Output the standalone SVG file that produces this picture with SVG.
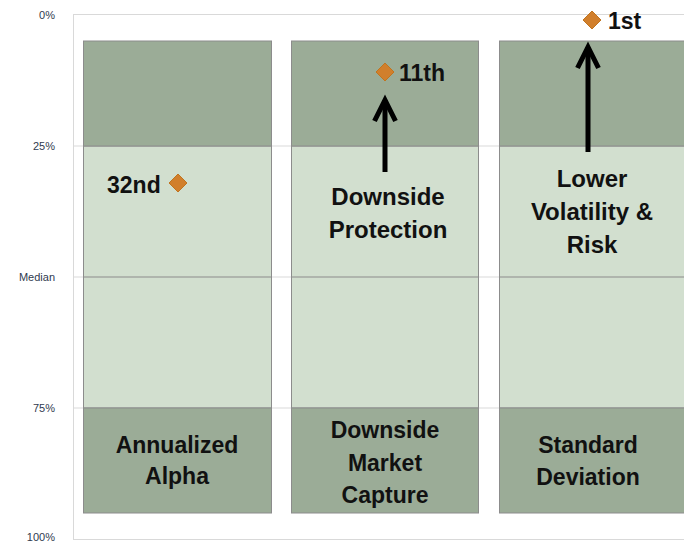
<svg xmlns="http://www.w3.org/2000/svg" width="684" height="542" viewBox="0 0 684 542">
<style>
.bg{fill:#ffffff}
.grid{stroke:#d9d9d9;stroke-width:1;fill:none}
.dark{fill:#9bac97;stroke:#8c8c8c;stroke-width:1}
.light{fill:#d2dfcf;stroke:#8c8c8c;stroke-width:1}
.mid{stroke:#8c8c8c;stroke-width:1.2;fill:none}
.ax{font-family:"Liberation Sans",Arial,sans-serif;font-size:11px;fill:#2f3a4f;text-anchor:end}
.lbl{font-family:"Liberation Sans",Arial,sans-serif;font-size:23px;font-weight:bold;fill:#111111;text-anchor:middle}
.note{font-size:24px}
.rank{font-family:"Liberation Sans",Arial,sans-serif;font-size:23px;font-weight:bold;fill:#111111}
.dia{fill:#d17f2c;stroke:#c0741f;stroke-width:1}
.conn{stroke:#000000;stroke-width:5;fill:none}
</style>
<defs>
<marker id="arr" markerUnits="userSpaceOnUse" markerWidth="40" markerHeight="40" viewBox="-30 -20 40 40" refX="0" refY="0" orient="auto" overflow="visible">
<path d="M -21 -10.5 L 0 0 L -21 10.5" fill="none" stroke="#000000" stroke-width="5" stroke-linejoin="miter"/>
</marker>
</defs>
<rect class="bg" x="0" y="0" width="684" height="542"/>
<g id="axis">
<rect class="grid" x="73.5" y="14.5" width="630" height="525"/>
<line class="grid" x1="73.5" y1="146" x2="684" y2="146"/>
<line class="grid" x1="73.5" y1="277" x2="684" y2="277"/>
<line class="grid" x1="73.5" y1="408" x2="684" y2="408"/>
<text class="ax" x="55" y="19">0%</text>
<text class="ax" x="55" y="150">25%</text>
<text class="ax" x="55" y="281">Median</text>
<text class="ax" x="55" y="412">75%</text>
<text class="ax" x="55" y="541">100%</text>
</g>
<g id="col-alpha">
<rect class="light" x="83.5" y="146" width="188" height="262"/>
<line class="mid" x1="83.5" y1="277" x2="271.5" y2="277"/>
<rect class="dark" x="83.5" y="41" width="188" height="105"/>
<rect class="dark" x="83.5" y="408" width="188" height="105"/>
<text class="lbl" x="177" y="453">Annualized</text>
<text class="lbl" x="177" y="484">Alpha</text>
</g>
<g id="col-capture">
<rect class="light" x="291.5" y="146" width="187" height="262"/>
<line class="mid" x1="291.5" y1="277" x2="478.5" y2="277"/>
<rect class="dark" x="291.5" y="41" width="187" height="105"/>
<rect class="dark" x="291.5" y="408" width="187" height="105"/>
<text class="lbl" x="385" y="438">Downside</text>
<text class="lbl" x="385" y="471">Market</text>
<text class="lbl" x="385" y="503">Capture</text>
</g>
<g id="col-stdev">
<rect class="light" x="499.5" y="146" width="190" height="262"/>
<line class="mid" x1="499.5" y1="277" x2="689.5" y2="277"/>
<rect class="dark" x="499.5" y="41" width="190" height="105"/>
<rect class="dark" x="499.5" y="408" width="190" height="105"/>
<text class="lbl" x="588" y="453">Standard</text>
<text class="lbl" x="588" y="485">Deviation</text>
</g>
<g id="point-32nd">
<path class="dia" d="M178 174 L187 183 L178 192 L169 183 Z"/>
<text class="rank" x="107" y="193">32nd</text>
</g>
<g id="point-11th">
<path class="dia" d="M385 63 L394 72 L385 81 L376 72 Z"/>
<text class="rank" x="399" y="81">11th</text>
</g>
<g id="point-1st">
<path class="dia" d="M592 11 L601 20 L592 29 L583 20 Z"/>
<text class="rank" x="608" y="29">1st</text>
</g>
<g id="note-protection">
<text class="lbl note" x="388" y="205">Downside</text>
<text class="lbl note" x="388" y="238">Protection</text>
</g>
<g id="note-volatility">
<text class="lbl note" x="592" y="187">Lower</text>
<text class="lbl note" x="592" y="220">Volatility &amp;</text>
<text class="lbl note" x="592" y="253">Risk</text>
</g>
<g id="connectors">
<path class="conn" d="M385 172 V100" marker-end="url(#arr)"/>
<path class="conn" d="M588 152 V47" marker-end="url(#arr)"/>
</g>
</svg>
